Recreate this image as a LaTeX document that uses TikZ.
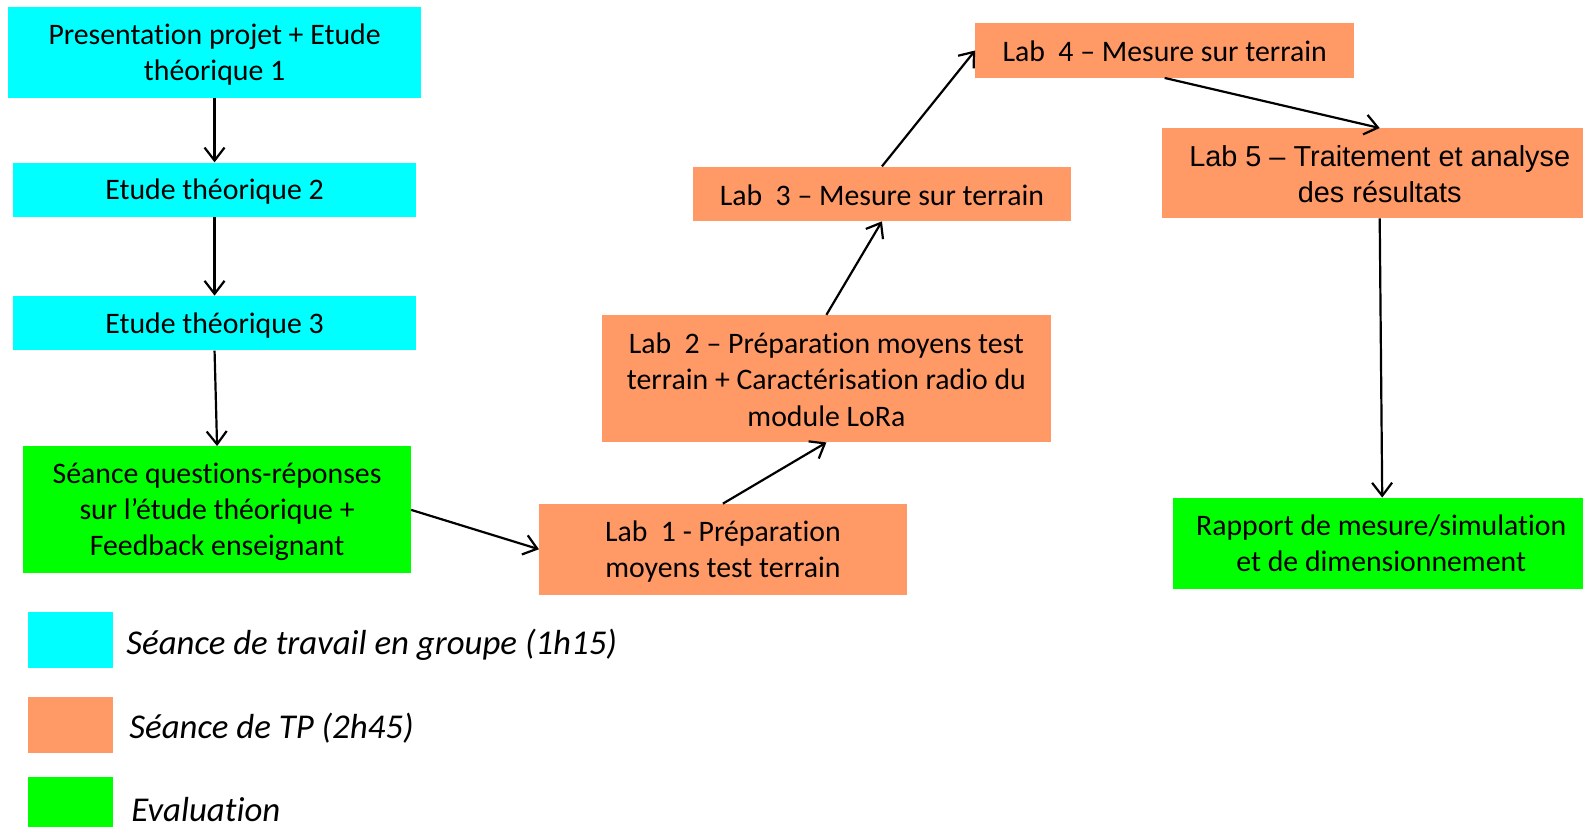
\documentclass[tikz,border=0pt]{standalone}
\usepackage{fontspec}
\setmainfont{Carlito}[Ligatures=NoCommon]
\newfontfamily\arialfont{Liberation Sans}
\usetikzlibrary{arrows.meta}
\definecolor{cyanbox}{HTML}{00FFFF}
\definecolor{orangebox}{HTML}{FF9966}
\definecolor{greenbox}{HTML}{00FF00}
\begin{document}
\begin{tikzpicture}[x=1pt,y=1pt,scale=1.0095,
  every node/.append style={transform shape},
  box/.style={rectangle, inner sep=0pt},
  cyanb/.style={box, fill=cyanbox},
  orangeb/.style={box, fill=orangebox},
  greenb/.style={box, fill=greenbox},
  boxtext/.style={inner sep=0pt, align=center, font=\fontsize{29.5}{36}\selectfont, yshift=-2pt},
  arialtext/.style={boxtext, font=\arialfont\fontsize{28.6}{35}\selectfont},
  conn/.style={line width=2.2pt, -{Straight Barb[length=13pt,width=20pt,line width=2.2pt]}},
  legtext/.style={anchor=west, inner sep=0pt, font=\fontsize{34.5}{40}\selectfont\itshape}
]
\useasboundingbox (0,0) rectangle (1568.1,-819.2);

\node[cyanb, minimum width=409pt, minimum height=90pt] (p1) at (212.5,-52) {};
\node[cyanb, minimum width=399pt, minimum height=54pt] (p2) at (212.5,-188) {};
\node[cyanb, minimum width=399pt, minimum height=54pt] (p3) at (212.5,-320) {};
\node[greenb, minimum width=384pt, minimum height=126pt] (seance) at (215,-505) {};
\node[orangeb, minimum width=364pt, minimum height=90pt] (lab1) at (716,-544) {};
\node[orangeb, minimum width=445pt, minimum height=126pt] (lab2) at (818.5,-375) {};
\node[orangeb, minimum width=375pt, minimum height=54pt] (lab3) at (873.5,-192) {};
\node[orangeb, minimum width=375pt, minimum height=54pt] (lab4) at (1153.5,-50) {};
\node[orangeb, minimum width=417pt, minimum height=89pt] (lab5) at (1359.5,-171.5) {};
\node[greenb, minimum width=406pt, minimum height=90pt] (rapport) at (1365,-538) {};

\node[boxtext] (p1t) at (p1.center) {Presentation projet + Etude\\théorique 1};
\node[boxtext] (p2t) at (p2.center) {Etude théorique 2};
\node[boxtext] (p3t) at (p3.center) {Etude théorique 3};
\node[boxtext] (seancet) at (seance.center) {Séance questions-réponses\\sur l’étude théorique +\\Feedback enseignant};
\node[boxtext] (lab1t) at (lab1.center) {Lab\ \ 1 - Préparation\\moyens test terrain};
\node[boxtext, yshift=1pt] (lab2t) at (lab2.center) {Lab\ \ 2 – Préparation moyens test\\terrain + Caractérisation radio du\\module LoRa};
\node[boxtext, yshift=1pt] (lab3t) at (lab3.center) {Lab\ \ 3 – Mesure sur terrain};
\node[boxtext, yshift=1pt] (lab4t) at (lab4.center) {Lab\ \ 4 – Mesure sur terrain};
\node[arialtext, xshift=7pt, yshift=1pt] (lab5t) at (lab5.center) {Lab 5 – Traitement et analyse\\des résultats};
\node[boxtext, xshift=3pt, yshift=2pt] (rapportt) at (rapport.center) {Rapport de mesure/simulation\\et de dimensionnement};

\draw[conn] (p1.south) -- (p2.north);
\draw[conn] (p2.south) -- (p3.north);
\draw[conn] (p3.south) -- (seance.north);
\draw[conn] (seance.east) -- (lab1.west);
\draw[conn] (lab1.north) -- (lab2.south);
\draw[conn] (lab2.north) -- (lab3.south);
\draw[conn] (lab3.north) -- (lab4.west);
\draw[conn] (lab4.south) -- ([xshift=7pt]lab5.north);
\draw[conn] ([xshift=7pt]lab5.south) -- ([xshift=4pt]rapport.north);

\node[cyanb, minimum width=84pt, minimum height=56pt] (leg1) at (70,-634) {};
\node[orangeb, minimum width=84pt, minimum height=56pt] (leg2) at (70,-718) {};
\node[greenb, minimum width=84pt, minimum height=57pt] (leg3) at (70,-798.5) {};
\node[legtext, yshift=-2pt] (l1) at (125,-637) {Séance de travail en groupe (1h15)};
\node[legtext, yshift=-2pt] (l2) at (128,-719) {Séance de TP (2h45)};
\node[legtext] (l3) at (130,-802) {Evaluation};
\end{tikzpicture}
\end{document}
